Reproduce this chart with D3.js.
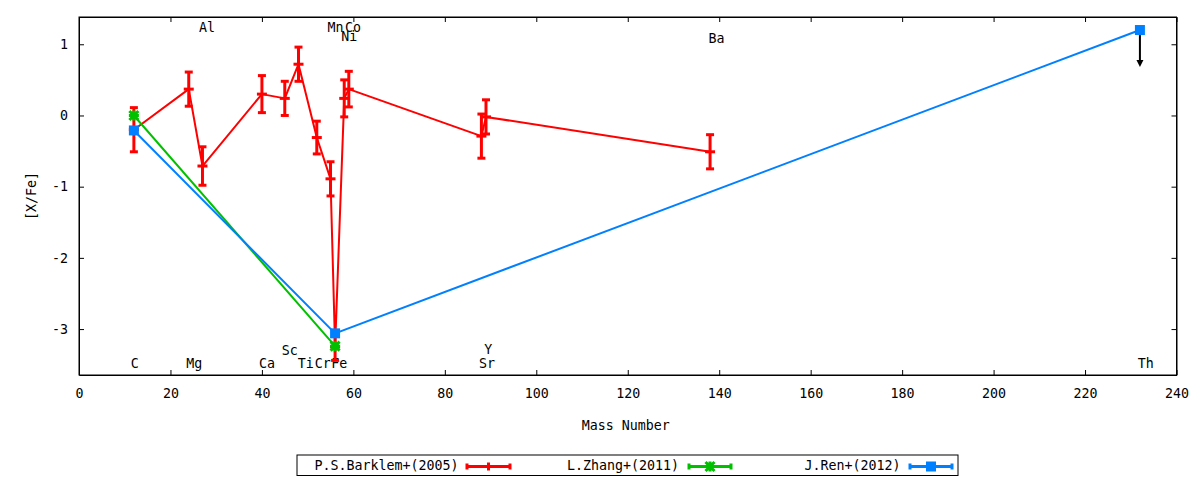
<html>
<head>
  <script src="https://d3js.org/d3.v7.min.js"></script>
  <style>
    body { margin: 0; background: #fff; }
    text { font-family: "DejaVu Sans Mono", monospace; font-size: 13.3px; fill: #000; }
    .frame { fill: none; stroke: black; stroke-width: 1px; }
    .axis path, .axis line { stroke: black; }
  </style>
</head>
<body>
<svg id="chart" width="1200" height="480"></svg>
<script>
  // P.S.Barklem+(2005)
  const barklemMass = [12, 24, 27, 40, 45, 48, 52, 55, 56, 58, 59, 88, 89, 138];
  const barklemVal  = [-0.20, 0.37, -0.71, 0.30, 0.24, 0.72, -0.31, -0.89, -3.25, 0.24, 0.37, -0.29, -0.02, -0.51];
  const barklemErr  = [0.31, 0.24, 0.27, 0.26, 0.24, 0.24, 0.23, 0.24, 0.19, 0.26, 0.25, 0.31, 0.24, 0.24];

  // L.Zhang+(2011)
  const zhangMass = [12, 56];
  const zhangVal  = [0.00, -3.24];

  // J.Ren+(2012), Th is an upper limit
  const renMass = [12, 56, 232];
  const renVal  = [-0.21, -3.06, 1.20];
  const thLimitTo = 0.68;

  // element labels (position in plot coordinates)
  const elemNames = ["C", "Mg", "Al", "Ca", "Sc", "Ti", "Cr", "Mn", "Fe", "Ni", "Co", "Sr", "Y", "Ba", "Th"];
  const elemX     = [12.2, 25.2, 28.0, 41.1, 46.1, 49.6, 53.3, 56.1, 56.9, 59.1, 59.9, 89.2, 89.5, 139.4, 233.3];
  const elemY     = [-3.48, -3.48, 1.24, -3.48, -3.29, -3.48, -3.48, 1.24, -3.48, 1.11, 1.24, -3.48, -3.28, 1.09, -3.48];

  const xTicks = [0, 20, 40, 60, 80, 100, 120, 140, 160, 180, 200, 220, 240];
  const yTicks = [-3, -2, -1, 0, 1];

  const legendNames = ["P.S.Barklem+(2005)", "L.Zhang+(2011)", "J.Ren+(2012)"];
  const colors = ["#ff0000", "#00c000", "#0080ff"];

  const svg = d3.select("svg#chart");
  const width = +svg.attr("width");
  const height = +svg.attr("height");
  const margin = { top: 17, right: 23.5, bottom: 105, left: 79 };
  const plotW = width - margin.left - margin.right;
  const plotH = height - margin.top - margin.bottom;

  const x = d3.scaleLinear().domain([0, 240]).range([0, plotW]);
  const y = d3.scaleLinear().domain([-3.645, 1.383]).range([plotH, 0]);

  const g = svg.append("g").attr("transform", "translate(" + margin.left + "," + margin.top + ")");

  // axes, ticks point inwards on all four sides
  g.append("g").attr("class", "axis").attr("transform", "translate(0," + plotH + ")")
    .call(d3.axisBottom(x).tickValues(xTicks).tickSize(-5).tickSizeOuter(0).tickPadding(14).tickFormat(d => String(d)));
  g.append("g").attr("class", "axis")
    .call(d3.axisTop(x).tickValues(xTicks).tickSize(-5).tickSizeOuter(0).tickFormat(""));
  g.append("g").attr("class", "axis")
    .call(d3.axisLeft(y).tickValues(yTicks).tickSize(-5).tickSizeOuter(0).tickPadding(11).tickFormat(d => String(d)));
  g.append("g").attr("class", "axis").attr("transform", "translate(" + plotW + ",0)")
    .call(d3.axisRight(y).tickValues(yTicks).tickSize(-5).tickSizeOuter(0).tickFormat(""));
  g.selectAll(".axis text").style("font-size", "13.3px");

  g.append("rect").attr("class", "frame").attr("width", plotW).attr("height", plotH);

  // element labels
  g.selectAll(".elem")
    .data(elemNames)
    .join("text")
    .attr("class", "elem")
    .attr("x", (d, i) => x(elemX[i]))
    .attr("y", (d, i) => y(elemY[i]))
    .attr("dy", "0.36em")
    .attr("text-anchor", "middle")
    .text(d => d);

  const line = d3.line().x(d => x(d[0])).y(d => y(d[1]));

  // Barklem: line + error bars + "+" points
  const barklem = barklemMass.map((m, i) => [m, barklemVal[i], barklemErr[i]]);
  g.append("path").datum(barklem).attr("d", line)
    .attr("fill", "none").attr("stroke", colors[0]).attr("stroke-width", 2).attr("stroke-linejoin", "round");
  const eb = g.selectAll(".eb").data(barklem).join("g").attr("class", "eb")
    .attr("stroke", colors[0]).attr("stroke-width", 3);
  eb.append("line")
    .attr("x1", d => x(d[0])).attr("x2", d => x(d[0]))
    .attr("y1", d => y(d[1] - d[2])).attr("y2", d => y(d[1] + d[2]));
  eb.append("line")
    .attr("x1", d => x(d[0]) - 4).attr("x2", d => x(d[0]) + 4)
    .attr("y1", d => y(d[1] - d[2])).attr("y2", d => y(d[1] - d[2]));
  eb.append("line")
    .attr("x1", d => x(d[0]) - 4).attr("x2", d => x(d[0]) + 4)
    .attr("y1", d => y(d[1] + d[2])).attr("y2", d => y(d[1] + d[2]));
  eb.append("line")
    .attr("x1", d => x(d[0]) - 5).attr("x2", d => x(d[0]) + 5)
    .attr("y1", d => y(d[1])).attr("y2", d => y(d[1]));

  // Zhang
  const zhang = zhangMass.map((m, i) => [m, zhangVal[i]]);
  g.append("path").datum(zhang).attr("d", line)
    .attr("fill", "none").attr("stroke", colors[1]).attr("stroke-width", 2);
  const starPath = "M-4.5,-4.5L4.5,4.5M-4.5,4.5L4.5,-4.5M-5,0H5M0,-5V5";
  g.selectAll(".zp").data(zhang).join("path").attr("class", "zp")
    .attr("transform", d => "translate(" + x(d[0]) + "," + y(d[1]) + ")")
    .attr("d", starPath).attr("stroke", colors[1]).attr("stroke-width", 3).attr("fill", "none");

  // Ren
  const ren = renMass.map((m, i) => [m, renVal[i]]);
  g.append("path").datum(ren).attr("d", line)
    .attr("fill", "none").attr("stroke", colors[2]).attr("stroke-width", 2);
  g.selectAll(".rp").data(ren).join("rect").attr("class", "rp")
    .attr("x", d => x(d[0]) - 5).attr("y", d => y(d[1]) - 5)
    .attr("width", 10).attr("height", 10).attr("fill", colors[2]);

  // upper-limit arrow for Th
  const thX = x(renMass[2]);
  const tipY = y(thLimitTo);
  g.append("line")
    .attr("x1", thX).attr("x2", thX)
    .attr("y1", y(renVal[2]) + 5).attr("y2", tipY - 5)
    .attr("stroke", "black").attr("stroke-width", 2);
  g.append("path")
    .attr("d", "M" + (thX - 3.5) + "," + (tipY - 7) + "L" + (thX + 3.5) + "," + (tipY - 7) + "L" + thX + "," + tipY + "Z")
    .attr("fill", "black");

  // axis titles
  svg.append("text").attr("x", margin.left + plotW / 2 - 2).attr("y", 425).attr("dy", "0.36em")
    .attr("text-anchor", "middle").text("Mass Number");
  svg.append("text").attr("transform", "translate(31," + (margin.top + plotH / 2) + ") rotate(-90)")
    .attr("dy", "0.36em").attr("text-anchor", "middle").text("[X/Fe]");

  // legend
  const legendTextEnd = [458.5, 679, 900.5];
  const legendSample = [[466, 511], [688, 732], [909, 953]];
  const ly = 465.5;
  svg.append("rect").attr("x", 297).attr("y", 455).attr("width", 661).attr("height", 20.5)
    .attr("fill", "none").attr("stroke", "black").attr("stroke-width", 1);
  legendNames.forEach((name, i) => {
    svg.append("text").attr("x", legendTextEnd[i]).attr("y", ly).attr("dy", "0.36em")
      .attr("text-anchor", "end").text(name);
    const [a, b] = legendSample[i];
    const lg = svg.append("g").attr("stroke", colors[i]).attr("stroke-width", 3);
    lg.append("line").attr("x1", a).attr("x2", b).attr("y1", ly + 1).attr("y2", ly + 1);
    lg.append("line").attr("x1", a + 1).attr("x2", a + 1).attr("y1", ly - 2).attr("y2", ly + 4);
    lg.append("line").attr("x1", b - 1).attr("x2", b - 1).attr("y1", ly - 2).attr("y2", ly + 4);
    const cx = (a + b) / 2;
    if (i === 0) {
      lg.append("line").attr("x1", cx).attr("x2", cx).attr("y1", ly - 3).attr("y2", ly + 5);
    } else if (i === 1) {
      svg.append("path").attr("transform", "translate(" + cx + "," + (ly + 1) + ")")
        .attr("d", starPath).attr("stroke", colors[1]).attr("stroke-width", 3).attr("fill", "none");
    } else {
      svg.append("rect").attr("x", cx - 5).attr("y", ly - 4).attr("width", 10).attr("height", 10)
        .attr("fill", colors[2]);
    }
  });
</script>
</body>
</html>
